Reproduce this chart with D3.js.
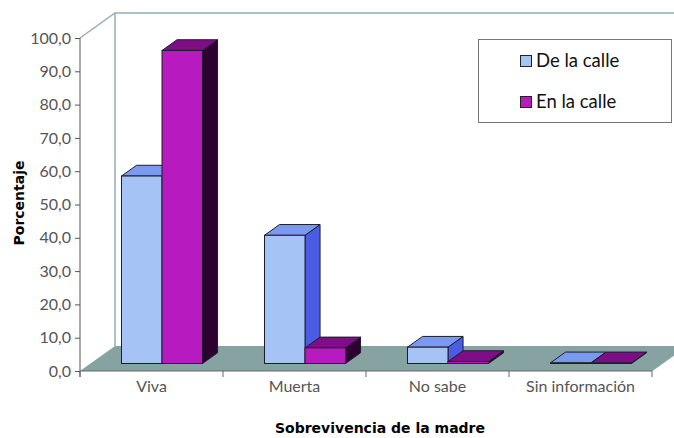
<!DOCTYPE html>
<html><head><meta charset="utf-8">
<script src="https://cdn.jsdelivr.net/npm/d3@7"></script>
<style>body{margin:0;background:#fff}svg{display:block}</style>
</head><body>
<svg id="c" width="674" height="438"></svg>
<script>
const categories = ["Viva", "Muerta", "No sabe", "Sin información"];
const seriesNames = ["De la calle", "En la calle"];
const deLaCalle = [56.3, 38.5, 4.9, 0.2];
const enLaCalle = [94.0, 4.7, 0.6, 0.2];
const yTicks = [0,10,20,30,40,50,60,70,80,90,100];
const yTitle = "Porcentaje";
const xTitle = "Sobrevivencia de la madre";

const svg = d3.select("#c");
const W = 674, H = 438;
const x0 = 80, x1 = 652, yBase = 371, yTop = 38;
const DX = 35, DY = -25;           // floor depth
const f0 = 0.3, f1 = 0.73;         // bar depth fraction
const x = d3.scaleBand().domain(categories).range([x0, x1]).paddingInner(0).paddingOuter(0);
const xs = d3.scaleBand().domain(seriesNames).range([0, x.bandwidth()]).paddingInner(0).paddingOuter(0.765);
const y = d3.scaleLinear().domain([0, 100]).range([yBase, yTop]);

const wallCol = "#8fb0ae";
const g = svg.append("g");
svg.append("defs").append("clipPath").attr("id","clip").append("rect").attr("x",0).attr("y",0).attr("width",W).attr("height",H);
g.attr("clip-path","url(#clip)");

// floor
g.append("path").attr("d", `M${x0},${yBase}L${x1},${yBase}L${x1+DX},${yBase+DY}L${x0+DX},${yBase+DY}Z`)
  .attr("fill","#86a3a1");
// back wall lines
g.append("path").attr("d", `M${x0},${y(100)}L${x0+DX},${y(100)+DY}L${W+5},${y(100)+DY}`).attr("fill","none").attr("stroke",wallCol).attr("stroke-width",1.5);
g.append("line").attr("x1",x0+DX).attr("x2",x0+DX).attr("y1",y(100)+DY).attr("y2",yBase+DY).attr("stroke",wallCol).attr("stroke-width",1.5);

const colors = [
  {front:"#a6c3f5", top:"#7a9af0", side:"#4a5de2"},
  {front:"#b71abf", top:"#7e0d86", side:"#2c0230"}
];
const series = [deLaCalle, enLaCalle];
const ox = DX*f0, oy = DY*f0, bx = DX*(f1-f0), by = DY*(f1-f0);
const stroke = "#1e1e2a";
categories.forEach((c, i) => {
  series.forEach((vals, s) => {
    const v = vals[i];
    const xl = x(c) + xs(seriesNames[s]) + ox;
    const xr = xl + xs.bandwidth();
    const yb = y(0) + oy, yt = y(v) + oy;
    const col = colors[s];
    const bar = g.append("g");
    bar.append("path").attr("d", `M${xr},${yb}L${xr+bx},${yb+by}L${xr+bx},${yt+by}L${xr},${yt}Z`)
      .attr("fill", col.side).attr("stroke", stroke).attr("stroke-width",1).attr("stroke-linejoin","round");
    bar.append("path").attr("d", `M${xl},${yt}L${xr},${yt}L${xr+bx},${yt+by}L${xl+bx},${yt+by}Z`)
      .attr("fill", col.top).attr("stroke", stroke).attr("stroke-width",1).attr("stroke-linejoin","round");
    bar.append("rect").attr("x", xl).attr("y", yt).attr("width", xr-xl).attr("height", Math.max(0, yb-yt))
      .attr("fill", col.front).attr("stroke", stroke).attr("stroke-width",1);
  });
});

g.append("line").attr("x1",x1).attr("y1",yBase).attr("x2",x1+DX).attr("y2",yBase+DY).attr("stroke","#9ab").attr("stroke-width",1);

// axes
const fontF = "Lato, 'Open Sans', sans-serif";
const yAxis = d3.axisLeft(y).tickValues(yTicks).tickSize(5).tickFormat(d => d3.format(".1f")(d).replace(".", ","));
const ya = svg.append("g").attr("transform", `translate(${x0},0)`).call(yAxis);
ya.select(".domain").attr("stroke","#555").attr("d", `M0,${yTop}V${yBase+6}`);
ya.selectAll(".tick line").attr("stroke","#555");
ya.selectAll(".tick text").attr("font-family", fontF).attr("font-size", 16).attr("fill","#555").attr("x",-9);

const xAxis = d3.axisBottom(x).tickSize(0);
const xa = svg.append("g").attr("transform", `translate(0,${yBase})`).call(xAxis);
xa.select(".domain").attr("stroke","#666").attr("d", `M${x0},0H${x1}`);
xa.selectAll(".tick text").attr("font-family", fontF).attr("font-size", 16).attr("fill","#555").attr("dy", "1.15em");
xa.selectAll(".bnd").data(d3.range(categories.length + 1)).enter().append("line")
  .attr("x1", k => x0 + k * x.step()).attr("x2", k => x0 + k * x.step())
  .attr("y1", 0).attr("y2", 6).attr("stroke","#666");

// titles
const titleF = "'DejaVu Sans', sans-serif";
svg.append("text").attr("transform", "translate(24,203) rotate(-90)").attr("text-anchor","middle")
  .attr("font-family", titleF).attr("font-weight", "bold").attr("font-size", 14).attr("fill","#000").text(yTitle);
svg.append("text").attr("x", 380).attr("y", 433).attr("text-anchor","middle")
  .attr("font-family", titleF).attr("font-weight", "bold").attr("font-size", 14).attr("fill","#000").text(xTitle);

// legend
const lg = svg.append("g");
lg.append("rect").attr("x", 478.5).attr("y", 39.5).attr("width", 193).attr("height", 83)
  .attr("fill","#fff").attr("stroke","#777").attr("stroke-width",1);
seriesNames.forEach((n, s) => {
  const yy = 55 + s * 41;
  lg.append("rect").attr("x", 520.5).attr("y", yy + 0.5).attr("width", 11).attr("height", 11)
    .attr("fill", colors[s].front).attr("stroke", "#222").attr("stroke-width",1);
  lg.append("text").attr("x", 536).attr("y", yy + 12).attr("font-family", fontF).attr("font-size", 18.5)
    .attr("fill","#111").text(n);
});
</script>
</body></html>
